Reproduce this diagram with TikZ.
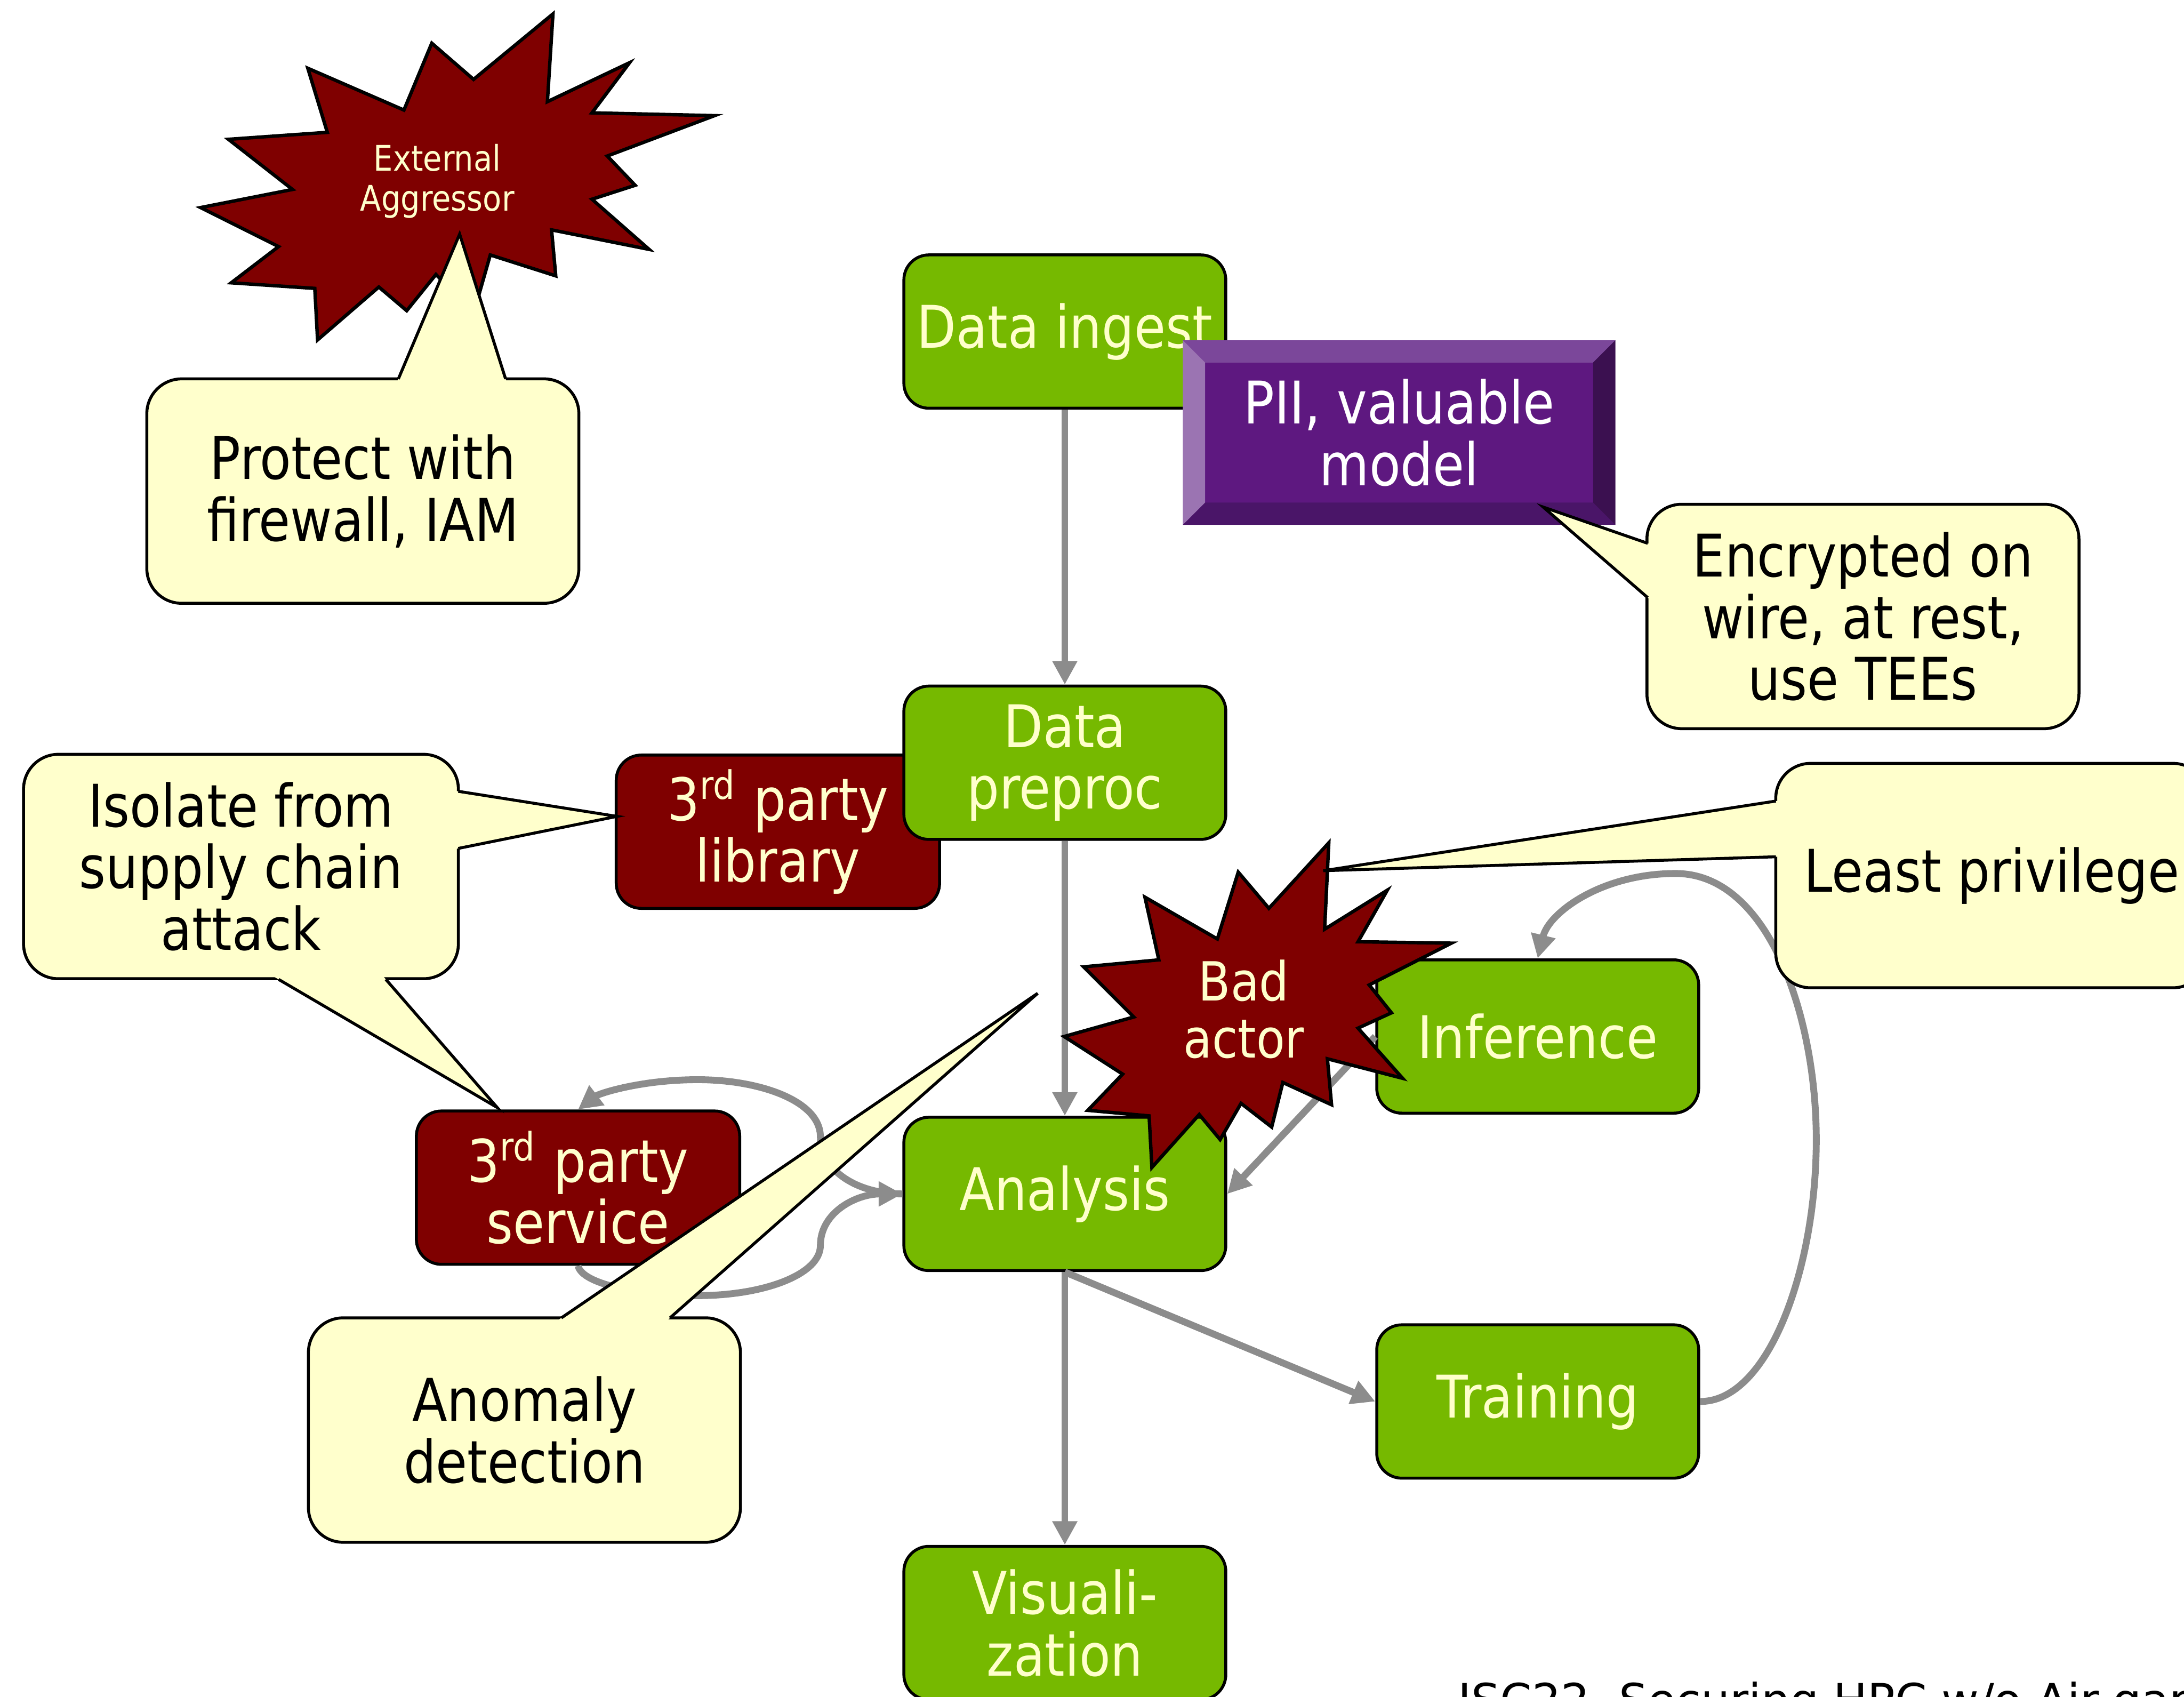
\documentclass[tikz,border=0pt]{standalone}
\usepackage{fontspec}
\setmainfont{DejaVu Sans}[FakeStretch=0.87]
\newfontfamily\footfam{DejaVu Sans}
\usetikzlibrary{arrows.meta}
\usetikzlibrary{calc}

\definecolor{nvgreen}{HTML}{76B900}
\definecolor{paleyel}{HTML}{FFFFCC}
\definecolor{threatred}{HTML}{7F0000}
\definecolor{flowgray}{HTML}{8C8C8C}
\definecolor{piimid}{HTML}{5E1880}
\definecolor{piitop}{HTML}{7B479A}
\definecolor{piileft}{HTML}{9B74B2}
\definecolor{piiright}{HTML}{3B1050}
\definecolor{piibottom}{HTML}{4A1568}

\newcommand{\boxfont}{\fontsize{12}{12.6}\selectfont}
\newcommand{\burstfont}{\fontsize{11}{11.7}\selectfont}
\newcommand{\smallburst}{\fontsize{7.2}{8.2}\selectfont}
\newcommand{\footfont}{\footfam\fontsize{9.3}{11}\selectfont}

% tail of a speech bubble: base point, tip, base point
\newcommand{\notetail}[3]{%
  \fill[paleyel] ($(#1)!-3pt!(#2)$) -- (#2) -- ($(#3)!-3pt!(#2)$) -- cycle;
  \draw[notetip] (#1) -- (#2) -- (#3);
}

\tikzset{
      proc/.style={draw=black, line width=0.6pt, fill=nvgreen, text=paleyel,
            rounded corners=0.18cm, minimum width=2.31cm, minimum height=1.10cm,
            align=center, inner sep=0pt, font=\boxfont},
      thirdparty/.style={proc, fill=threatred, minimum width=2.32cm},
      asset/.style={fill=piimid, text=white, minimum width=3.09cm, minimum height=1.31cm,
            align=center, inner sep=0pt, font=\boxfont},
      note/.style={draw=black, line width=0.6pt, fill=paleyel, text=black,
            rounded corners=0.25cm, minimum width=3.10cm, minimum height=1.61cm,
            align=center, inner sep=0pt, font=\boxfont},
      notetip/.style={draw=black, line width=0.6pt, line join=miter},
      burst/.style={draw=black, line width=0.7pt, fill=threatred, line join=miter},
      flow/.style={draw=flowgray, line width=1.4pt, -{Triangle[length=0.17cm, width=0.17cm]}},
}

\begin{document}
\begin{tikzpicture}[x=0.01cm, y=-0.01cm]
        \useasboundingbox (0,0) rectangle (1568,1218);
        \clip (0,0) rectangle (1568,1218);

        % External aggressor
        \draw[burst] (397,10) -- (393,73) -- (452,45) -- (425,81) -- (513,83) -- (436,112)
              -- (456,133) -- (425,143) -- (466,179) -- (396,165) -- (399,198) -- (352,183)
              -- (340,225) -- (313,197) -- (292,223) -- (272,206) -- (228,244) -- (226,207)
              -- (166,203) -- (200,177) -- (144,149) -- (210,136) -- (164,100) -- (235,95)
              -- (221,49) -- (290,79) -- (310,31) -- (340,57) -- cycle;
        \node[font=\smallburst, text=paleyel, align=center] (aggressor) at (314,130) {External\\Aggressor};

        \node[note] (protect) at (260.5,352.5) {Protect with\\firewall, IAM};
        \coordinate (protect tip) at (330,168);
        \notetail{286,272}{protect tip}{363,272}

        % Draw the pipeline
        \node[thirdparty] (library) at (558.5,597) {3\textsuperscript{rd} party\\library};
        \node[proc] (ingest) at (764.5,238) {Data ingest};
        \node[proc] (preproc) at (764.5,547.5) {Data\\preproc};
        \node[proc] (analysis) at (764.5,857) {Analysis};
        \node[proc] (inference) at (1104,744) {Inference};
        \node[proc] (training) at (1104,1006) {Training};
        \node[proc] (vis) at (764.5,1165) {Visuali-\\zation};

        \draw[flow] (ingest.south) -- (preproc.north);
        \draw[flow] (preproc.south) -- (analysis.north);
        \draw[flow] (inference.west) -- (analysis.east);
        \draw[flow] (analysis.south) -- (vis.north);
        \draw[flow] (analysis.south) -- (training.west);
        \draw[flow] (training.east) .. controls (1270,1006) and (1304,910) .. (1304,818)
              .. controls (1304,730) and (1270,627) .. (1203,627)
              .. controls (1150,627) and (1112,655) .. (inference.north);

        % PII asset with bevelled edges
        \node[asset] (pii) at (1004.5,310.5) {PII, valuable\\model};
        \fill[piitop] (pii.north west) -- (pii.north east) -- ++(-16,16) -- ($(pii.north west)+(16,16)$) -- cycle;
        \fill[piibottom] (pii.south west) -- (pii.south east) -- ++(-16,-16) -- ($(pii.south west)+(16,-16)$) -- cycle;
        \fill[piileft] (pii.north west) -- ($(pii.north west)+(16,16)$) -- ($(pii.south west)+(16,-16)$) -- (pii.south west) -- cycle;
        \fill[piiright] (pii.north east) -- ($(pii.north east)+(-16,16)$) -- ($(pii.south east)+(-16,-16)$) -- (pii.south east) -- cycle;

        \node[note] (encrypt) at (1337.5,442.5) {Encrypted on\\wire, at rest,\\use TEEs};
        \coordinate (encrypt tip) at (1108,364);
        \notetail{1183,390}{encrypt tip}{1183,429}

        % Third party service and its loops
        \node[thirdparty] (service) at (415,852.5) {3\textsuperscript{rd} party\\service};
        \draw[flow] (analysis.west) .. controls (615,857) and (589,840) .. (589,816)
              .. controls (589,790) and (545,775) .. (501,775)
              .. controls (460,775) and (430,785) .. (service.north);
        \draw[flow] (service.south) .. controls (418,922) and (460,930) .. (501,930)
              .. controls (548,930) and (589,915) .. (589,894)
              .. controls (589,870) and (615,857) .. (analysis.west);

        \node[note] (anomaly) at (376.5,1026.5) {Anomaly\\detection};
        \coordinate (anomaly tip) at (745,713);
        \notetail{403,946}{anomaly tip}{481,946}

        \node[note, minimum width=3.12cm] (isolate) at (173,622) {Isolate from\\supply chain\\attack};
        \coordinate (isolate lib) at (443,586);
        \coordinate (isolate svc) at (357,795);
        \notetail{329,568}{isolate lib}{329,609}
        \notetail{200,703}{isolate svc}{277,703}

        % Bad actor
        \draw[burst] (954,605) -- (951,667) -- (996,639) -- (975,676) -- (1042,677) -- (983,707)
              -- (999,727) -- (975,738) -- (1007,774) -- (953,760) -- (956,793) -- (921,777)
              -- (913,809) -- (891,792) -- (876,818) -- (861,800) -- (827,838) -- (825,801)
              -- (781,797) -- (806,771) -- (764,744) -- (814,730) -- (778,694) -- (832,689)
              -- (822,644) -- (874,674) -- (889,626) -- (911,652) -- cycle;
        \node[font=\burstfont, text=paleyel, align=center] (bad) at (893,724.5) {Bad\\actor};

        \node[note] (least) at (1430,628.5) {Least privilege};
        \coordinate (least tip) at (950,625);
        \notetail{1275,575}{least tip}{1275,615}

        \node[font=\footfont, anchor=base west, inner sep=0pt] (footer) at (1046,1232) {ISC22, Securing HPC w/o Air-gap};

\end{tikzpicture}
\end{document}
